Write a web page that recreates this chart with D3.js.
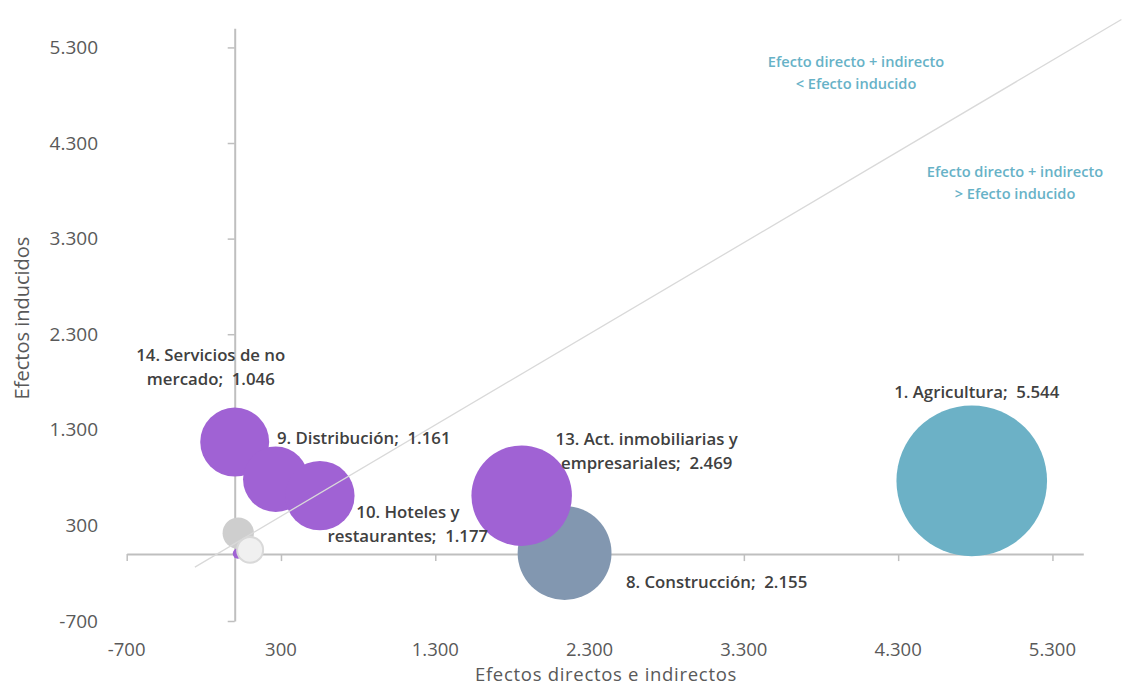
<!DOCTYPE html>
<html>
<head>
<meta charset="utf-8">
<script src="https://cdn.jsdelivr.net/npm/d3@7"></script>
<style>
  html, body { margin: 0; padding: 0; background: #fff; }
  svg { display: block; }
  text { font-family: "Open Sans", "Noto Sans", sans-serif; white-space: pre; }
</style>
</head>
<body>
<svg id="chart" width="1122" height="687"></svg>
<script>
// ---------------- data ----------------
const sectorNames = [
  "8. Construcción",
  "13. Act. inmobiliarias y empresariales",
  "1. Agricultura",
  "9. Distribución",
  "14. Servicios de no mercado",
  "10. Hoteles y restaurantes",
  "",
  "",
  ""
];
// label lines as printed in the chart
const labelLines = [
  ["8. Construcción;  2.155"],
  ["13. Act. inmobiliarias y", "empresariales;  2.469"],
  ["1. Agricultura;  5.544"],
  ["9. Distribución;  1.161"],
  ["14. Servicios de no", "mercado;  1.046"],
  ["10. Hoteles y", "restaurantes;  1.177"],
  [], [], []
];
const directIndirect = [2138, 1860, 4777, 0, 266, 552, 23, 20, 100];   // x
const induced        = [12, 611, 766, 1172, 782, 611, 219, 5, 44];      // y
const bubbleSize     = [2155, 2469, 5544, 1161, 1046, 1177, 240, 25, 165];
const sectorGroup    = ["construction", "services", "agriculture", "services", "services", "services", "other", "services", "other2"];

const axisTicks  = [-700, 300, 1300, 2300, 3300, 4300, 5300];
const axisDomain = [-700, 5500];

// reference line (drawn shape) endpoints in data units
const refLineX = [-258, 5747];
const refLineY = [-136, 5592];

const noteLines = [
  ["Efecto directo + indirecto", "< Efecto inducido"],
  ["Efecto directo + indirecto", "> Efecto inducido"]
];

// ---------------- styles / layout ----------------
const groupColor = {
  construction: "#8297b0",
  services: "#a062d4",
  agriculture: "#6cb1c6",
  other: "#cecece",
  other2: "#f0f0f0"
};
const groupStroke = { other2: "#d9d9d9" };
// label offsets from bubble centre (px): [dx, dy of first line]
const labelOffset = [[152, 29], [125, -57], [5, -89], [129, -4], [-65, -124], [88, 16]];
const lineGap = 24;
const notePos = [[856, 62], [1015, 172]];

const fmt = d3.formatLocale({decimal: ",", thousands: ".", grouping: [3], currency: ["", "€"], minus: "-"}).format(",d");

const svg = d3.select("#chart");
const x = d3.scaleLinear().domain(axisDomain).range([126.7, 1083.3]);
const y = d3.scaleLinear().domain(axisDomain).range([621, 28.3]);
const r = d3.scaleSqrt().domain([0, d3.max(bubbleSize)]).range([0, 75.3]);

const axisColor = "#bfbfbf";

// x axis line at y = 0
const gx = svg.append("g").attr("transform", `translate(0,${y(0)})`)
  .call(d3.axisBottom(x).tickValues(axisTicks).tickSize(7).tickSizeOuter(0).tickFormat(""));
gx.select(".domain").attr("stroke", axisColor).attr("stroke-width", 2);
gx.selectAll(".tick line").attr("stroke", axisColor).attr("stroke-width", 1.5);

// y axis line at x = 0
const gy = svg.append("g").attr("transform", `translate(${x(0)},0)`)
  .call(d3.axisLeft(y).tickValues(axisTicks).tickSize(7).tickSizeOuter(0).tickFormat(""));
gy.select(".domain").attr("stroke", axisColor).attr("stroke-width", 2);
gy.selectAll(".tick line").attr("stroke", axisColor).attr("stroke-width", 1.5);

// tick labels at plot edges ("low" position)
svg.append("g").selectAll("text").data(axisTicks).join("text")
  .attr("x", d => x(d)).attr("y", 649.5).attr("dy", "0.35em")
  .attr("text-anchor", "middle").attr("font-size", 18.5).attr("fill", "#595959")
  .text(d => fmt(d));
svg.append("g").selectAll("text").data(axisTicks).join("text")
  .attr("x", 98).attr("y", d => y(d)).attr("dy", "0.35em")
  .attr("text-anchor", "end").attr("font-size", 19).attr("fill", "#595959")
  .text(d => fmt(d));

// axis titles
svg.append("text").attr("x", 606).attr("y", 675).attr("dy", "0.35em")
  .attr("text-anchor", "middle").attr("font-size", 18.5).attr("letter-spacing", 0.7).attr("fill", "#595959")
  .text("Efectos directos e indirectos");
svg.append("text").attr("transform", "translate(22,318) rotate(-90)").attr("dy", "0.35em")
  .attr("text-anchor", "middle").attr("font-size", 20).attr("fill", "#595959")
  .text("Efectos inducidos");

// bubbles
const idx = d3.range(bubbleSize.length);
svg.append("g").selectAll("circle").data(idx).join("circle")
  .attr("cx", i => x(directIndirect[i]))
  .attr("cy", i => y(induced[i]))
  .attr("r", i => r(bubbleSize[i]))
  .attr("fill", i => groupColor[sectorGroup[i]])
  .attr("stroke", i => groupStroke[sectorGroup[i]] || "none")
  .attr("stroke-width", 2);

// reference line
svg.append("line")
  .attr("x1", x(refLineX[0])).attr("y1", y(refLineY[0]))
  .attr("x2", x(refLineX[1])).attr("y2", y(refLineY[1]))
  .attr("stroke", "#d9d9d9").attr("stroke-width", 1.3);

// data labels
const lg = svg.append("g");
idx.filter(i => labelLines[i].length).forEach(i => {
  const cx = x(directIndirect[i]), cy = y(induced[i]);
  const [dx, dy] = labelOffset[i];
  const t = lg.append("text").attr("text-anchor", "middle")
    .attr("font-size", 16.8).attr("font-weight", 600).attr("fill", "#404040");
  labelLines[i].forEach((ln, k) => {
    t.append("tspan").attr("x", cx + dx).attr("y", cy + dy + k * lineGap).attr("dy", "0.35em").text(ln);
  });
});

// notes
noteLines.forEach((lines, j) => {
  const t = svg.append("text").attr("text-anchor", "middle")
    .attr("font-size", 14.6).attr("font-weight", 600).attr("fill", "#67b2c7");
  lines.forEach((ln, k) => {
    t.append("tspan").attr("x", notePos[j][0]).attr("y", notePos[j][1] + k * 21.5).attr("dy", "0.35em").text(ln);
  });
});
</script>
</body>
</html>
